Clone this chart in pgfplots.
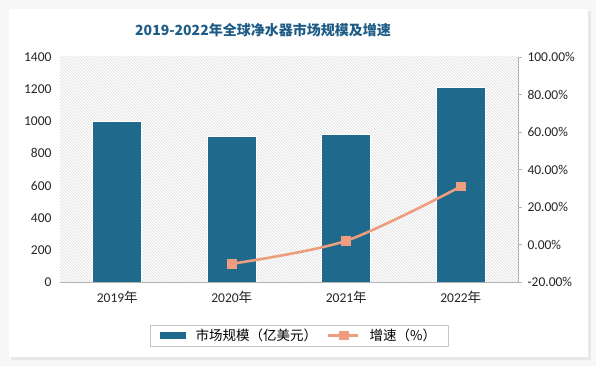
\documentclass[border=0pt]{standalone}
\usepackage{pgfplots}
\pgfplotsset{compat=1.18}
\usepackage{fontspec}
\setmainfont{Carlito}
\newfontfamily\cjk{Noto Sans CJK SC}
\usetikzlibrary{patterns}
\definecolor{barcol}{RGB}{30,105,140}
\definecolor{linecol}{RGB}{238,158,126}
\definecolor{titlecol}{RGB}{30,92,135}
\begin{document}
\begin{tikzpicture}[x=1pt,y=1pt]
\useasboundingbox (0,0) rectangle (596,366);
\fill[gray!6] (0,0) rectangle (596,366);
\fill[gray!18] (11,6) rectangle (591,355);
\fill[white] (9,9) rectangle (588,357);
\node[font=\cjk\bfseries\fontsize{14}{16}\selectfont, text=titlecol] at (263,336) {2019-2022年全球净水器市场规模及增速};
\begin{axis}[
  at={(60pt,84pt)}, anchor=south west,
  width=458pt, height=225pt, scale only axis,
  xmin=-0.5, xmax=3.5, ymin=0, ymax=1400,
  ytick={0,200,...,1400},
  xtick={0,1,2,3},
  xticklabels={2019{\cjk 年},2020{\cjk 年},2021{\cjk 年},2022{\cjk 年}},
  axis x line*=bottom, axis y line*=left,
  x axis line style={gray!60, line width=0.8pt, -},
  y axis line style={draw=none},
  major tick length=0pt,
  tick label style={font=\fontsize{13.5}{15}\selectfont, text=black!85},
  yticklabel style={xshift=-5pt},
  xticklabel style={yshift=-6pt},
  /pgf/number format/assume math mode=true,
  /pgf/number format/1000 sep={},
  axis background/.style={pattern=north west lines, pattern color=gray!28},
  legend columns=2,
  legend style={at={(0.522,-0.238)}, anchor=center, draw=gray!45,
    font=\cjk\fontsize{13.5}{15}\selectfont, column sep=8pt, inner xsep=10pt, inner ysep=2pt},
]
\addplot[ybar, bar width=49pt, fill=barcol, draw=white, line width=0.6pt,
  legend image code/.code={\fill[barcol] (0pt,-3pt) rectangle (25pt,3pt);}]
  coordinates {(0,1000) (1,906) (2,919) (3,1212)};
\addlegendentry{市场规模（亿美元）}
\addlegendimage{linecol, line width=2.5pt,
  legend image code/.code={\draw[linecol, line width=2.5pt] (0pt,0pt) -- (30pt,0pt); \fill[linecol] (12pt,-3.5pt) rectangle (19pt,3.5pt);}}
\addlegendentry{增速（\%）}
\end{axis}
\begin{axis}[
  at={(60pt,84pt)}, anchor=south west,
  width=458pt, height=225pt, scale only axis,
  xmin=-0.5, xmax=3.5, ymin=-20, ymax=100,
  ytick={-20,0,...,100},
  axis x line=none, axis y line*=right,
  y axis line style={gray!60, line width=0.8pt, -},
  tick align=outside, major tick length=4pt,
  ytick style={gray!60, line width=0.8pt},
  tick label style={font=\fontsize{13.5}{15}\selectfont, text=black!85},
  /pgf/number format/assume math mode=true,
  yticklabel={\pgfmathprintnumber[fixed,fixed zerofill,precision=2]{\tick}\%},
  yticklabel style={xshift=2pt},
]
\addplot[smooth, color=linecol, line width=2.6pt, mark=square*, mark size=3.5pt]
  coordinates {(1,-10.3) (2,2.0) (3,30.9)};
\end{axis}
\end{tikzpicture}
\end{document}
